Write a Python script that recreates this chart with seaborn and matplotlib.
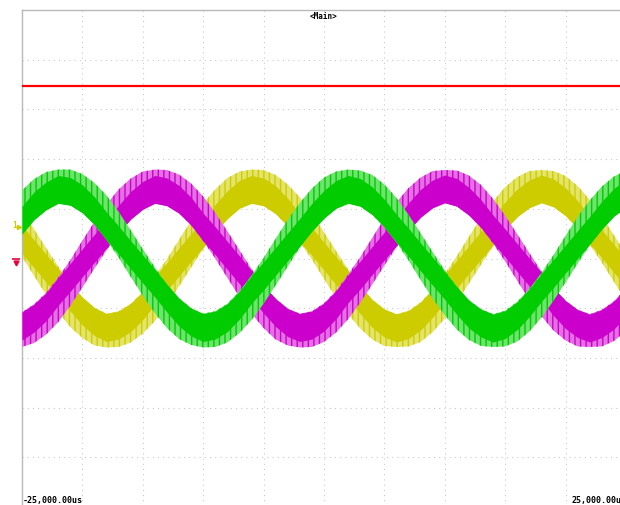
import matplotlib
matplotlib.use("Agg")
import matplotlib.pyplot as plt
import seaborn as sns
import numpy as np
import pandas as pd

# ---- data (time in microseconds, amplitude in screen divisions) ----
time_us = list(range(-25000, 25001, 1000))

green_center = [0.93, 1.19, 1.36, 1.45, 1.43, 1.31, 1.10, 0.82, 0.48, 0.10,
                -0.28, -0.64, -0.96, -1.21, -1.37, -1.45, -1.42, -1.30, -1.08, -0.79,
                -0.45, -0.07, 0.31, 0.67, 0.98, 1.22, 1.38, 1.45, 1.41, 1.28,
                1.06, 0.77, 0.42, 0.04, -0.34, -0.69, -1.00, -1.24, -1.39, -1.45,
                -1.41, -1.27, -1.04, -0.74, -0.39, -0.01, 0.37, 0.72, 1.02, 1.25, 1.40]
green_half = [.44, .41, .38, .34, .36, .39, .42, .45, .46, .47,
              .47, .46, .44, .41, .37, .34, .36, .39, .42, .45,
              .46, .47, .47, .45, .43, .41, .37, .34, .36, .40,
              .43, .45, .46, .47, .47, .45, .43, .40, .37, .33,
              .36, .40, .43, .45, .46, .47, .47, .45, .43, .40, .37]

magenta_center = [-1.43, -1.31, -1.11, -0.83, -0.49, -0.11, 0.27, 0.63, 0.95, 1.20,
                  1.37, 1.45, 1.42, 1.30, 1.09, 0.80, 0.46, 0.08, -0.30, -0.66,
                  -0.97, -1.22, -1.38, -1.45, -1.42, -1.29, -1.07, -0.77, -0.43, -0.05,
                  0.33, 0.68, 0.99, 1.23, 1.39, 1.45, 1.41, 1.27, 1.05, 0.75,
                  0.40, 0.02, -0.36, -0.71, -1.02, -1.25, -1.40, -1.45, -1.40, -1.26, -1.03]
magenta_half = [.35, .39, .42, .45, .46, .47, .47, .46, .44, .41,
                .38, .34, .36, .39, .42, .45, .46, .47, .47, .45,
                .43, .41, .37, .34, .36, .39, .42, .45, .46, .47,
                .47, .45, .43, .40, .37, .33, .36, .40, .43, .45,
                .46, .47, .47, .45, .43, .40, .37, .33, .37, .40, .43]

yellow_center = [0.50, 0.12, -0.26, -0.62, -0.94, -1.19, -1.37, -1.45, -1.42, -1.30,
                 -1.09, -0.81, -0.47, -0.09, 0.29, 0.65, 0.96, 1.21, 1.38, 1.45,
                 1.42, 1.29, 1.07, 0.78, 0.44, 0.06, -0.32, -0.67, -0.98, -1.23,
                 -1.39, -1.45, -1.41, -1.28, -1.05, -0.76, -0.41, -0.03, 0.35, 0.70,
                 1.01, 1.24, 1.39, 1.45, 1.40, 1.26, 1.03, 0.73, 0.38, 0.00, -0.38]
yellow_half = [.46, .47, .47, .46, .44, .41, .38, .34, .36, .39,
               .42, .45, .46, .47, .47, .46, .43, .41, .37, .34,
               .36, .39, .42, .45, .46, .47, .47, .45, .43, .40,
               .37, .33, .36, .40, .43, .45, .46, .47, .47, .45,
               .43, .40, .37, .33, .36, .40, .43, .45, .46, .47, .47]

red_time = [-25000, 25000]
red_level = [3.47, 3.47]

x_labels = ["-25,000.00us", "25,000.00us"]
title_text = "<Main>"

# ---- style ----
sns.set_theme(style="white")
plt.rcParams["font.family"] = ["DejaVu Sans Mono", "DejaVu Sans"]
plt.rcParams["hatch.linewidth"] = 1.0

fig = plt.figure(figsize=(6.2, 5.05), dpi=100)
W, H = 620, 505
ax = fig.add_axes([22 / W, (H - 507) / H, 604 / W, 497 / H])
ax.set_xlim(-25000, 25000)
ax.set_ylim(-5, 5)
ax.set_xticks([])
ax.set_yticks([])
for s in ["left", "top"]:
    ax.spines[s].set_color("#b8b8b8")
    ax.spines[s].set_linewidth(1.0)
for s in ["right", "bottom"]:
    ax.spines[s].set_visible(False)

# dotted grid
for gx in range(-20000, 20001, 5000):
    ax.axvline(gx, color="#c4c4c4", lw=0.75, ls=(0, (1, 4)), zorder=0)
for gy in range(-4, 5):
    ax.axhline(gy, color="#c4c4c4", lw=0.75, ls=(0, (1, 4)), zorder=0)

CORE = 0.56   # thickness of the solid part of each band (divisions)

series = [
    ("yellow", yellow_center, yellow_half, "#cccc00", "#e4e46a", 2),
    ("magenta", magenta_center, magenta_half, "#cc00cc", "#e470e4", 3),
    ("green", green_center, green_half, "#00cc00", "#6ee46e", 4),
]
for name, c, h, col, tint, z in series:
    df = pd.DataFrame({"t": time_us, "c": c, "h": h})
    outer_lo = df["c"] - df["h"]
    outer_hi = df["c"] + df["h"]
    fringe = (2 * df["h"] - CORE).clip(lower=0)
    w_up = np.clip(0.5 + df["c"] / 1.6, 0, 1)   # ripple mostly on the outer side
    core_hi = outer_hi - w_up * fringe
    core_lo = outer_lo + (1 - w_up) * fringe
    ax.fill_between(df["t"], outer_lo, outer_hi, facecolor=tint,
                    edgecolor=col, hatch="|||", linewidth=0, zorder=z)
    ax.fill_between(df["t"], core_lo, core_hi, color=col, linewidth=0, zorder=z + 0.1)

# red trace
sns.lineplot(x=red_time, y=red_level, ax=ax, color="#ff0000", lw=1.6, zorder=6)

# texts
ax.text(0, 4.86, title_text, ha="center", va="center", fontsize=5.5,
        fontweight="bold", color="black")
ax.text(-24950, -4.86, x_labels[0], ha="left", va="center", fontsize=6,
        fontweight="bold", color="black", clip_on=False)
ax.text(25000, -4.86, x_labels[1], ha="right", va="center", fontsize=6,
        fontweight="bold", color="black", clip_on=False)

# channel markers on the left
ax.text(-25580, 0.67, "1", ha="center", va="center", fontsize=5.5,
        color="#cccc00", fontweight="bold", clip_on=False)
ax.plot([-25250], [0.64], marker=">", color="#cccc00", ms=3, clip_on=False)
ax.plot([-25500], [0.0], marker="_", color="#e8003c", ms=6, mew=1.2, clip_on=False)
ax.plot([-25500], [-0.1], marker="v", color="#e8003c", ms=3.5, clip_on=False)

fig.savefig("out.png", dpi=100)
